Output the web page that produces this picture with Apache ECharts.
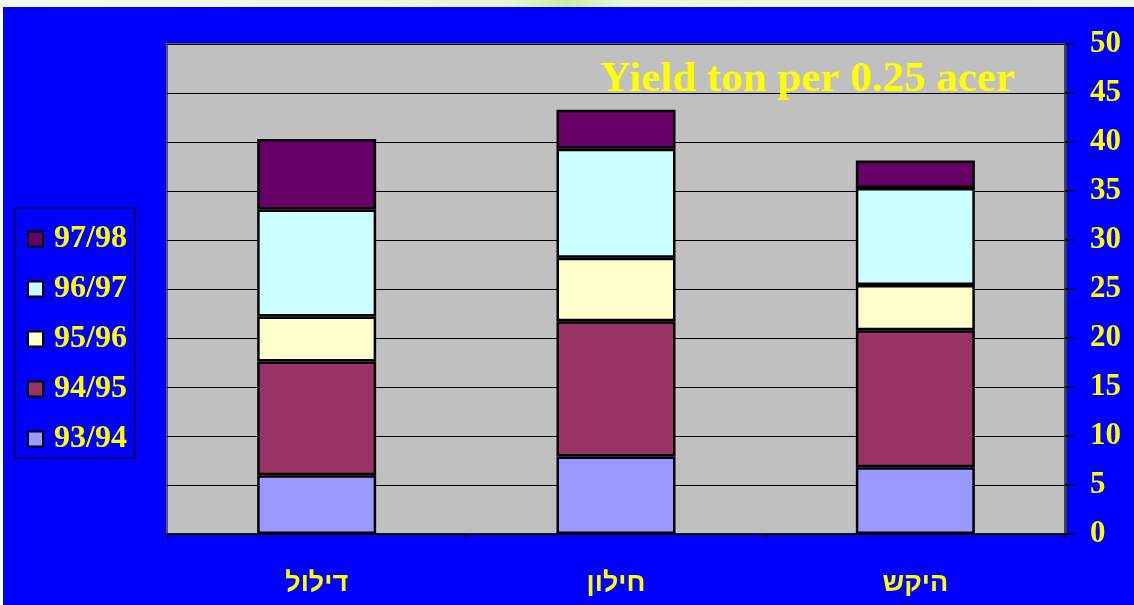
<!DOCTYPE html>
<html>
<head>
<meta charset="utf-8">
<script src="https://cdn.jsdelivr.net/npm/echarts@6/dist/echarts.min.js"></script>
<style>
html,body{margin:0;padding:0;background:#0000FF;}
#c{width:1134px;height:605px;}
</style>
</head>
<body>
<div id="c"></div>
<script>
const categories = ['דילול', 'חילון', 'היקש'];
const seriesNames = ['93/94', '94/95', '95/96', '96/97', '97/98'];
const s9394 = [6.0, 7.9, 6.8];
const s9495 = [11.6, 13.8, 14.0];
const s9596 = [4.6, 6.5, 4.6];
const s9697 = [10.9, 11.1, 9.9];
const s9798 = [7.2, 4.0, 2.8];
const yTicks = [0, 5, 10, 15, 20, 25, 30, 35, 40, 45, 50];
const titleText = 'Yield ton per 0.25 acer';

const colors = ['#9999FF', '#993366', '#FFFFCC', '#CCFFFF', '#660066'];
const values = [s9394, s9495, s9596, s9697, s9798];
const serif = "'Liberation Serif', 'Times New Roman', serif";
const hebFont = "'Liberation Sans', 'DejaVu Sans', sans-serif";

const chart = echarts.init(document.getElementById('c'), null, {renderer: 'canvas'});
chart.setOption({
  backgroundColor: '#0000FF',
  animation: false,
  title: {
    text: titleText,
    left: 600, top: 58,
    padding: 0,
    textStyle: {color: '#FFFF00', fontFamily: serif, fontWeight: 'bold', fontSize: 43}
  },
  graphic: [{
    type: 'rect', left: 0, top: 0, z: 100,
    shape: {width: 1134, height: 7},
    style: {fill: new echarts.graphic.LinearGradient(0, 0, 1, 0, [
      {offset: 0, color: '#F4FBEF'}, {offset: 0.45, color: '#E6F5D8'},
      {offset: 0.5, color: '#C6EFA4'}, {offset: 0.55, color: '#E8F6DC'}, {offset: 1, color: '#EEF8E6'}])}
  }, {
    type: 'rect', left: 0, top: 0, z: 100,
    shape: {width: 3, height: 605},
    style: {fill: '#F4FBEF'}
  }],
  legend: {
    orient: 'vertical',
    left: 15, top: 208,
    padding: [15, 8, 3, 12],
    itemGap: 18,
    itemWidth: 15, itemHeight: 15,
    backgroundColor: '#0000FF',
    borderColor: '#000033', borderWidth: 1.5,
    data: seriesNames.slice().reverse(),
    icon: 'rect',
    textStyle: {color: '#FFFF00', fontFamily: serif, fontWeight: 'bold', fontSize: 32, lineHeight: 32, padding: [0, 0, 0, 6]}
  },
  grid: {
    left: 167, right: 69, top: 44, bottom: 71,
    show: true, backgroundColor: '#C0C0C0', borderColor: '#5A5A5A', borderWidth: 2
  },
  xAxis: {
    type: 'category',
    data: categories,
    axisLine: {show: true, lineStyle: {color: '#000000', width: 1.5}},
    axisTick: {show: true, length: 6, inside: false, lineStyle: {color: '#000000'}},
    axisLabel: {color: '#FFFF00', fontFamily: hebFont, fontWeight: 'bold', fontSize: 27, margin: 36},
    splitLine: {show: false}
  },
  yAxis: {
    type: 'value',
    position: 'right',
    min: 0, max: 50, interval: 5,
    axisLine: {show: true, lineStyle: {color: '#404040', width: 2.5}},
    axisTick: {show: true, length: 10, lineStyle: {color: '#000000', width: 1.5}},
    axisLabel: {color: '#FFFF00', fontFamily: serif, fontWeight: 'bold', fontSize: 31, margin: 25,
      padding: [8, 0, 0, 0],
      formatter: v => (yTicks.indexOf(v) >= 0 ? String(v) : '')},
    splitLine: {show: true, lineStyle: {color: '#000000', width: 1}}
  },
  series: seriesNames.map((name, i) => ({
    name: name,
    type: 'bar',
    stack: 'total',
    data: values[i],
    barWidth: 119,
    itemStyle: {color: colors[i], borderColor: '#000000', borderWidth: 2.5},
    emphasis: {disabled: true}
  }))
});
</script>
</body>
</html>
